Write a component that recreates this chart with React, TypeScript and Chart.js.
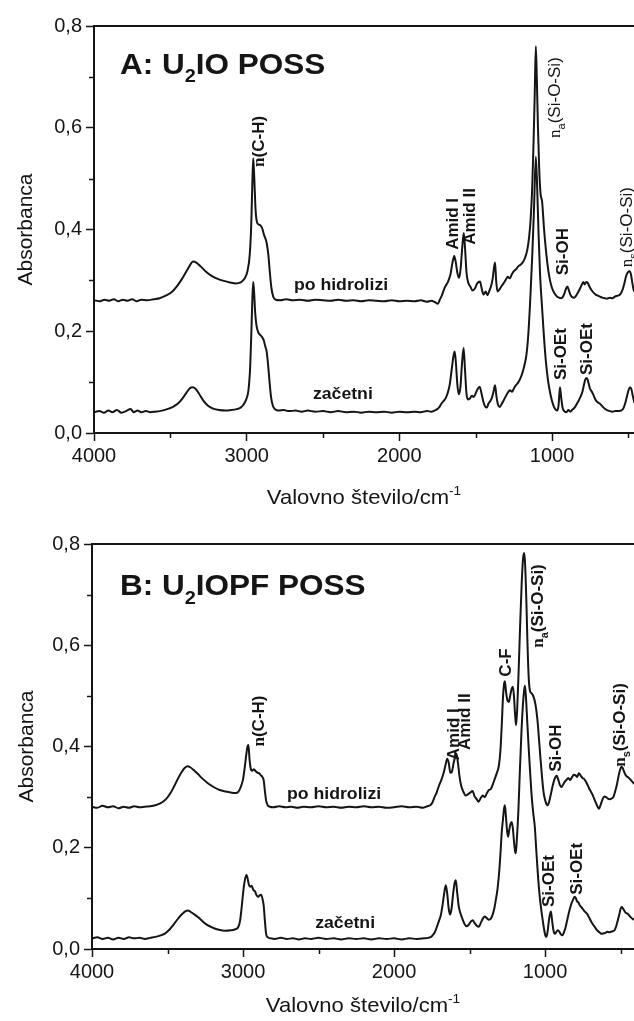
import React, { useEffect, useRef } from 'react';
import { Chart, registerables } from 'chart.js';

Chart.register(...registerables);

// ---------- axis ticks ----------
const X_MAJOR = [4000, 3000, 2000, 1000];
const X_MINOR = [3500, 2500, 1500, 500];
const Y_MAJOR = [0, 0.2, 0.4, 0.6, 0.8];
const Y_MINOR = [0.1, 0.3, 0.5, 0.7];
const SERIES_NAMES = ['po hidrolizi', 'začetni'];

// ---------- Panel A: U2IO POSS ----------
const A_HYD_WN = [4000, 3960, 3930, 3900, 3870, 3840, 3810, 3780, 3750, 3720, 3690, 3650, 3610, 3570, 3530, 3490, 3460, 3430, 3400, 3375, 3352, 3330, 3300, 3270, 3230, 3190, 3150, 3110, 3070, 3040, 3015, 2995, 2980, 2970, 2962, 2957, 2950, 2942, 2933, 2922, 2910, 2898, 2887, 2877, 2868, 2858, 2848, 2838, 2826, 2810, 2780, 2740, 2700, 2650, 2600, 2550, 2500, 2450, 2400, 2350, 2300, 2250, 2200, 2150, 2100, 2050, 2000, 1950, 1900, 1860, 1820, 1790, 1765, 1748, 1735, 1722, 1708, 1695, 1680, 1665, 1652, 1640, 1630, 1620, 1608, 1598, 1588, 1578, 1569, 1560, 1548, 1535, 1520, 1505, 1490, 1472, 1460, 1448, 1435, 1422, 1410, 1398, 1388, 1380, 1373, 1366, 1357, 1345, 1332, 1318, 1305, 1290, 1277, 1263, 1250, 1235, 1220, 1205, 1190, 1176, 1162, 1150, 1140, 1130, 1121, 1113, 1106, 1099, 1092, 1084, 1075, 1065, 1052, 1040, 1027, 1013, 1000, 985, 970, 955, 940, 928, 918, 908, 899, 890, 880, 868, 855, 842, 830, 818, 806, 795, 786, 776, 766, 755, 742, 728, 714, 700, 685, 670, 655, 640, 622, 605, 588, 570, 555, 540, 527, 515, 503, 492, 483, 474, 466, 460];
const A_HYD_ABS = [0.261, 0.259, 0.262, 0.26, 0.263, 0.259, 0.262, 0.26, 0.263, 0.259, 0.262, 0.261, 0.263, 0.265, 0.27, 0.277, 0.287, 0.3, 0.315, 0.328, 0.337, 0.335, 0.327, 0.318, 0.309, 0.303, 0.299, 0.296, 0.294, 0.296, 0.303, 0.318, 0.35, 0.41, 0.5, 0.54, 0.5, 0.44, 0.415, 0.41, 0.408, 0.402, 0.39, 0.382, 0.372, 0.35, 0.315, 0.285, 0.268, 0.262, 0.261, 0.263, 0.261, 0.262, 0.26, 0.262, 0.261, 0.26, 0.262, 0.26, 0.261, 0.259, 0.261, 0.26, 0.259, 0.261, 0.259, 0.26, 0.259, 0.261, 0.258, 0.26, 0.257, 0.254, 0.262, 0.27, 0.282, 0.29, 0.298, 0.312, 0.335, 0.348, 0.335, 0.315, 0.305, 0.325, 0.365, 0.393, 0.36, 0.315, 0.295, 0.288, 0.28, 0.284, 0.294, 0.298, 0.283, 0.272, 0.278, 0.271, 0.28, 0.29, 0.305, 0.325, 0.335, 0.3, 0.278, 0.282, 0.288, 0.294, 0.3, 0.307, 0.304, 0.312, 0.318, 0.322, 0.328, 0.331, 0.336, 0.345, 0.36, 0.385, 0.42, 0.48, 0.57, 0.67, 0.76, 0.69, 0.6, 0.52, 0.47, 0.455, 0.4, 0.36, 0.325, 0.3, 0.285, 0.275, 0.269, 0.266, 0.265, 0.268, 0.275, 0.284, 0.288, 0.281, 0.272, 0.267, 0.266, 0.27, 0.276, 0.283, 0.291, 0.297, 0.292, 0.297, 0.295, 0.288, 0.281, 0.276, 0.272, 0.27, 0.268, 0.266, 0.265, 0.264, 0.266, 0.265, 0.268, 0.27, 0.272, 0.28, 0.293, 0.308, 0.316, 0.318, 0.312, 0.295, 0.282, 0.278];

const A_INI_WN = [4000, 3965, 3935, 3905, 3880, 3850, 3820, 3790, 3760, 3740, 3715, 3690, 3660, 3630, 3600, 3570, 3540, 3510, 3480, 3450, 3420, 3395, 3372, 3355, 3335, 3312, 3285, 3255, 3220, 3180, 3140, 3100, 3065, 3040, 3020, 3003, 2988, 2977, 2968, 2962, 2957, 2951, 2944, 2935, 2924, 2912, 2900, 2888, 2878, 2869, 2860, 2850, 2840, 2828, 2812, 2790, 2760, 2720, 2680, 2640, 2600, 2550, 2500, 2450, 2400, 2350, 2300, 2250, 2200, 2150, 2100, 2050, 2000, 1950, 1900, 1860, 1820, 1790, 1770, 1752, 1738, 1724, 1710, 1697, 1684, 1670, 1657, 1646, 1638, 1630, 1620, 1610, 1600, 1590, 1579, 1570, 1561, 1550, 1538, 1525, 1512, 1500, 1488, 1474, 1462, 1450, 1438, 1427, 1416, 1404, 1393, 1382, 1373, 1364, 1354, 1342, 1330, 1317, 1303, 1290, 1276, 1262, 1249, 1236, 1222, 1208, 1194, 1180, 1167, 1155, 1143, 1130, 1118, 1106, 1097, 1088, 1078, 1066, 1053, 1040, 1027, 1013, 1000, 988, 976, 966, 957, 948, 940, 931, 920, 906, 892, 880, 866, 852, 838, 825, 812, 800, 790, 781, 772, 763, 752, 741, 729, 716, 703, 688, 672, 656, 640, 622, 604, 586, 568, 550, 535, 522, 510, 499, 489, 480, 471, 463, 460];
const A_INI_ABS = [0.041, 0.043, 0.04, 0.044, 0.041, 0.045, 0.04, 0.043, 0.047, 0.041, 0.044, 0.041, 0.043, 0.041, 0.042, 0.043, 0.045, 0.048, 0.052, 0.058, 0.068, 0.079, 0.088, 0.09, 0.087, 0.077, 0.064, 0.054, 0.048, 0.045, 0.044, 0.045, 0.047, 0.05, 0.056, 0.066, 0.085, 0.13, 0.21, 0.27, 0.297, 0.275, 0.235, 0.21, 0.198, 0.193, 0.189, 0.182, 0.17, 0.16, 0.135, 0.1, 0.07, 0.053, 0.046, 0.044, 0.045, 0.043, 0.044, 0.042, 0.044, 0.042, 0.043, 0.041, 0.043, 0.041, 0.042, 0.04, 0.042, 0.041, 0.042, 0.04, 0.042, 0.041, 0.042, 0.041, 0.043, 0.042, 0.044, 0.047, 0.051, 0.058, 0.063, 0.068, 0.078, 0.095, 0.125, 0.15, 0.16, 0.14, 0.095, 0.076, 0.09, 0.135, 0.167, 0.125, 0.08, 0.066, 0.068, 0.073, 0.071, 0.078, 0.086, 0.091, 0.078, 0.062, 0.052, 0.05, 0.058, 0.063, 0.07, 0.083, 0.094, 0.072, 0.056, 0.051, 0.057, 0.064, 0.072, 0.079, 0.084, 0.081, 0.088, 0.094, 0.099, 0.107, 0.118, 0.134, 0.155, 0.195, 0.26, 0.345, 0.44, 0.543, 0.48, 0.39, 0.31, 0.25, 0.19, 0.14, 0.105, 0.08, 0.063, 0.052, 0.046, 0.044, 0.055, 0.09, 0.07, 0.05, 0.043, 0.041, 0.045, 0.042, 0.046, 0.05, 0.057, 0.064, 0.072, 0.082, 0.096, 0.106, 0.108, 0.101, 0.088, 0.082, 0.075, 0.066, 0.061, 0.058, 0.053, 0.048, 0.045, 0.043, 0.042, 0.043, 0.043, 0.044, 0.047, 0.057, 0.071, 0.084, 0.09, 0.086, 0.073, 0.063, 0.06];

// ---------- Panel B: U2IOPF POSS ----------
const B_HYD_WN = [4000, 3965, 3930, 3895, 3860, 3825, 3790, 3755, 3720, 3685, 3650, 3615, 3580, 3545, 3510, 3480, 3455, 3430, 3405, 3385, 3368, 3350, 3325, 3300, 3270, 3235, 3195, 3155, 3115, 3080, 3050, 3030, 3015, 3000, 2988, 2978, 2970, 2964, 2957, 2950, 2940, 2928, 2916, 2903, 2892, 2882, 2872, 2863, 2855, 2847, 2837, 2822, 2800, 2760, 2720, 2680, 2640, 2600, 2550, 2500, 2450, 2400, 2350, 2300, 2250, 2200, 2150, 2100, 2050, 2000, 1950, 1900, 1850, 1810, 1780, 1760, 1745, 1732, 1718, 1703, 1688, 1674, 1660, 1648, 1638, 1627, 1617, 1607, 1597, 1587, 1577, 1566, 1555, 1540, 1525, 1510, 1495, 1480, 1467, 1453, 1440, 1426, 1412, 1399, 1385, 1372, 1359, 1346, 1333, 1320, 1306, 1296, 1287, 1278, 1271, 1266, 1259, 1250, 1240, 1231, 1222, 1213, 1206, 1199, 1192, 1185, 1176, 1166, 1155, 1146, 1138, 1132, 1124, 1116, 1108, 1100, 1092, 1084, 1075, 1066, 1057, 1048, 1039, 1030, 1020, 1010, 1000, 990, 982, 972, 960, 950, 940, 930, 922, 912, 902, 893, 882, 870, 858, 846, 834, 822, 810, 798, 787, 776, 765, 753, 742, 732, 720, 708, 697, 686, 675, 664, 652, 642, 632, 620, 608, 596, 584, 572, 560, 548, 536, 524, 513, 503, 494, 485, 475, 465, 454, 442, 430, 418, 410];
const B_HYD_ABS = [0.281, 0.279, 0.283, 0.28, 0.282, 0.278, 0.281, 0.279, 0.282, 0.28, 0.281, 0.282, 0.284, 0.288, 0.296, 0.308, 0.322, 0.337, 0.35, 0.358, 0.361, 0.359, 0.353, 0.346, 0.337, 0.328, 0.32, 0.314, 0.311, 0.309, 0.308, 0.311, 0.32, 0.335, 0.36, 0.385, 0.4, 0.403, 0.375, 0.358, 0.352, 0.355, 0.351, 0.348, 0.347, 0.343, 0.34, 0.333, 0.312, 0.293, 0.284, 0.281, 0.28, 0.282, 0.28, 0.281, 0.279, 0.281, 0.28, 0.282, 0.28, 0.281, 0.279, 0.281, 0.28, 0.282, 0.28, 0.281, 0.279, 0.28, 0.282, 0.28, 0.281, 0.279, 0.282, 0.284, 0.29, 0.3, 0.309, 0.322, 0.333, 0.345, 0.362, 0.376, 0.368, 0.348, 0.35, 0.365, 0.378, 0.386, 0.368, 0.34, 0.322, 0.31, 0.303, 0.306, 0.309, 0.312, 0.302, 0.296, 0.291, 0.298, 0.303, 0.3, 0.308, 0.314, 0.316, 0.325, 0.336, 0.347, 0.362, 0.39, 0.44, 0.5, 0.524, 0.529, 0.51, 0.492, 0.488, 0.5, 0.513, 0.518, 0.5, 0.465, 0.442, 0.47, 0.54, 0.63, 0.72, 0.77, 0.782, 0.76, 0.69, 0.6, 0.535, 0.51, 0.506, 0.503, 0.497, 0.487, 0.47, 0.445, 0.41, 0.375, 0.34, 0.31, 0.295, 0.286, 0.284, 0.292, 0.308, 0.322, 0.333, 0.34, 0.342, 0.334, 0.324, 0.32, 0.324, 0.33, 0.334, 0.338, 0.334, 0.339, 0.344, 0.343, 0.34, 0.347, 0.343, 0.338, 0.336, 0.332, 0.325, 0.317, 0.311, 0.305, 0.297, 0.289, 0.281, 0.277, 0.285, 0.295, 0.301, 0.3, 0.297, 0.296, 0.297, 0.3, 0.311, 0.325, 0.342, 0.354, 0.36, 0.357, 0.349, 0.343, 0.34, 0.337, 0.333, 0.329, 0.326];

const B_INI_WN = [4000, 3965, 3930, 3895, 3860, 3825, 3790, 3755, 3720, 3685, 3650, 3615, 3580, 3545, 3515, 3485, 3455, 3425, 3400, 3380, 3365, 3345, 3320, 3295, 3265, 3235, 3200, 3160, 3120, 3080, 3050, 3032, 3020, 3008, 2996, 2985, 2977, 2970, 2962, 2953, 2943, 2932, 2921, 2910, 2900, 2890, 2880, 2871, 2863, 2855, 2847, 2835, 2815, 2790, 2750, 2710, 2670, 2630, 2590, 2550, 2500, 2450, 2400, 2350, 2300, 2250, 2200, 2150, 2100, 2050, 2000, 1950, 1900, 1850, 1800, 1775, 1755, 1742, 1730, 1716, 1702, 1690, 1678, 1667, 1657, 1648, 1638, 1629, 1619, 1609, 1599, 1591, 1582, 1572, 1561, 1548, 1534, 1520, 1506, 1492, 1479, 1466, 1452, 1439, 1425, 1412, 1399, 1386, 1372, 1359, 1347, 1336, 1326, 1315, 1305, 1296, 1287, 1279, 1271, 1266, 1259, 1252, 1245, 1237, 1229, 1221, 1213, 1205, 1198, 1194, 1187, 1177, 1167, 1156, 1146, 1138, 1133, 1126, 1118, 1108, 1098, 1088, 1078, 1068, 1058, 1048, 1038, 1028, 1017, 1007, 998, 991, 983, 975, 968, 961, 954, 945, 935, 925, 915, 905, 895, 885, 875, 865, 855, 845, 835, 825, 815, 805, 797, 788, 779, 770, 760, 750, 740, 730, 720, 708, 696, 684, 672, 660, 648, 636, 624, 612, 600, 588, 576, 564, 552, 540, 529, 518, 507, 499, 492, 484, 474, 464, 454, 442, 430, 418, 410];
const B_INI_ABS = [0.021, 0.023, 0.02, 0.022, 0.019, 0.022, 0.02, 0.023, 0.021, 0.022, 0.02, 0.022, 0.024, 0.027, 0.031, 0.039, 0.05, 0.062, 0.07, 0.075, 0.076, 0.073, 0.068, 0.062, 0.054, 0.047, 0.042, 0.038, 0.036, 0.037, 0.039, 0.043, 0.055, 0.085, 0.12, 0.14, 0.146, 0.14, 0.128, 0.123, 0.125, 0.117, 0.114, 0.106, 0.103, 0.106, 0.107, 0.099, 0.085, 0.055, 0.03, 0.023, 0.021, 0.02, 0.022, 0.02, 0.021, 0.019, 0.021, 0.02, 0.022, 0.02, 0.021, 0.019, 0.021, 0.02, 0.021, 0.019, 0.021, 0.02, 0.021, 0.019, 0.021, 0.02, 0.021, 0.022, 0.024, 0.028, 0.033, 0.044, 0.056, 0.067, 0.088, 0.112, 0.126, 0.11, 0.08, 0.068, 0.08, 0.108, 0.13, 0.136, 0.112, 0.085, 0.071, 0.06, 0.05, 0.045, 0.048, 0.054, 0.057, 0.051, 0.046, 0.044, 0.052, 0.06, 0.064, 0.061, 0.058, 0.06, 0.068, 0.08, 0.097, 0.118, 0.148, 0.185, 0.23, 0.255, 0.278, 0.284, 0.262, 0.235, 0.222, 0.235, 0.247, 0.251, 0.238, 0.21, 0.192, 0.189, 0.215, 0.27, 0.35, 0.43, 0.485, 0.512, 0.52, 0.495, 0.45, 0.395, 0.345, 0.3, 0.268, 0.242, 0.195, 0.15, 0.112, 0.084, 0.06, 0.04, 0.027, 0.024, 0.035, 0.055, 0.068, 0.074, 0.058, 0.038, 0.03, 0.034, 0.037, 0.034, 0.029, 0.027, 0.033, 0.042, 0.055, 0.068, 0.08, 0.09, 0.097, 0.103, 0.101, 0.094, 0.092, 0.086, 0.083, 0.079, 0.075, 0.072, 0.069, 0.062, 0.055, 0.049, 0.044, 0.039, 0.035, 0.032, 0.03, 0.031, 0.032, 0.034, 0.033, 0.034, 0.035, 0.037, 0.045, 0.057, 0.07, 0.08, 0.083, 0.08, 0.075, 0.071, 0.07, 0.066, 0.062, 0.059, 0.058];

// ---------- styling ----------
const INK = '#151515';
const SANS = "'Liberation Sans', Arial, Helvetica, sans-serif";
const SERIF = "'Liberation Serif', 'Times New Roman', serif";

type Seg = { t: string; sub?: boolean; sup?: boolean; serif?: boolean };
type Label = { segs: Seg[]; wn: number; val: number; kind: 'rot' | 'center' | 'title'; size: number; weight: string };

const NU = (rest: string, sub?: string): Seg[] =>
  sub ? [{ t: 'n', serif: true }, { t: sub, sub: true }, { t: rest }] : [{ t: 'n', serif: true }, { t: rest }];
const T = (s: string): Seg[] => [{ t: s }];

const LABELS_A: Label[] = [
  { segs: [{ t: 'A: U' }, { t: '2', sub: true }, { t: 'IO POSS' }], wn: 3830, val: 0.706, kind: 'title', size: 30, weight: 'bold' },
  { segs: NU('(C-H)'), wn: 2926, val: 0.523, kind: 'rot', size: 17, weight: 'bold' },
  { segs: NU('(Si-O-Si)', 'a'), wn: 987, val: 0.58, kind: 'rot', size: 17, weight: 'normal' },
  { segs: T('Amid I'), wn: 1655, val: 0.36, kind: 'rot', size: 17, weight: 'bold' },
  { segs: T('Amid II'), wn: 1544, val: 0.37, kind: 'rot', size: 17, weight: 'bold' },
  { segs: T('Si-OH'), wn: 935, val: 0.31, kind: 'rot', size: 17, weight: 'bold' },
  { segs: NU('(Si-O-Si)', 's'), wn: 515, val: 0.326, kind: 'rot', size: 17, weight: 'normal' },
  { segs: T('Si-OEt'), wn: 948, val: 0.104, kind: 'rot', size: 17, weight: 'bold' },
  { segs: T('Si-OEt'), wn: 780, val: 0.114, kind: 'rot', size: 17, weight: 'bold' },
  { segs: T(SERIES_NAMES[0]), wn: 2382, val: 0.293, kind: 'center', size: 17, weight: 'bold' },
  { segs: T(SERIES_NAMES[1]), wn: 2370, val: 0.079, kind: 'center', size: 17, weight: 'bold' },
];

const LABELS_B: Label[] = [
  { segs: [{ t: 'B: U' }, { t: '2', sub: true }, { t: 'IOPF POSS' }], wn: 3815, val: 0.699, kind: 'title', size: 30, weight: 'bold' },
  { segs: NU('(C-H)'), wn: 2903, val: 0.4, kind: 'rot', size: 17, weight: 'bold' },
  { segs: T('Amid I'), wn: 1609, val: 0.373, kind: 'rot', size: 17, weight: 'bold' },
  { segs: T('Amid II'), wn: 1540, val: 0.393, kind: 'rot', size: 17, weight: 'bold' },
  { segs: T('C-F'), wn: 1266, val: 0.538, kind: 'rot', size: 17, weight: 'bold' },
  { segs: NU('(Si-O-Si)', 'a'), wn: 1053, val: 0.595, kind: 'rot', size: 17, weight: 'bold' },
  { segs: T('Si-OH'), wn: 933, val: 0.35, kind: 'rot', size: 17, weight: 'bold' },
  { segs: NU('(Si-O-Si)', 's'), wn: 508, val: 0.36, kind: 'rot', size: 17, weight: 'bold' },
  { segs: T('Si-OEt'), wn: 981, val: 0.083, kind: 'rot', size: 17, weight: 'bold' },
  { segs: T('Si-OEt'), wn: 795, val: 0.107, kind: 'rot', size: 17, weight: 'bold' },
  { segs: T(SERIES_NAMES[0]), wn: 2397, val: 0.308, kind: 'center', size: 17, weight: 'bold' },
  { segs: T(SERIES_NAMES[1]), wn: 2324, val: 0.053, kind: 'center', size: 17, weight: 'bold' },
];

type PanelCfg = {
  height: number;
  padTop: number;
  yWidth: number;
  xHeight: number;
  xMin: number;
  xTitleDy: number;
  yTitleX: number;
  series: { wn: number[]; abs: number[] }[];
  labels: Label[];
};

const PANEL_A: PanelCfg = {
  height: 512, padTop: 26, yWidth: 94, xHeight: 79, xMin: 463, xTitleDy: 71, yTitleX: 24,
  series: [{ wn: A_HYD_WN, abs: A_HYD_ABS }, { wn: A_INI_WN, abs: A_INI_ABS }],
  labels: LABELS_A,
};
const PANEL_B: PanelCfg = {
  height: 509, padTop: 32, yWidth: 92, xHeight: 72, xMin: 411, xTitleDy: 63, yTitleX: 25,
  series: [{ wn: B_HYD_WN, abs: B_HYD_ABS }, { wn: B_INI_WN, abs: B_INI_ABS }],
  labels: LABELS_B,
};

function drawRich(ctx: CanvasRenderingContext2D, segs: Seg[], x: number, y: number, size: number, weight: string, align: 'left' | 'center') {
  const fonts = segs.map((s) => {
    const sz = s.sub || s.sup ? Math.round(size * 0.62) : size;
    return `${weight} ${sz}px ${s.serif ? SERIF : SANS}`;
  });
  let total = 0;
  const widths = segs.map((s, i) => {
    ctx.font = fonts[i];
    const w = ctx.measureText(s.t).width;
    total += w;
    return w;
  });
  let cx = align === 'center' ? x - total / 2 : x;
  segs.forEach((s, i) => {
    ctx.font = fonts[i];
    const dy = s.sub ? size * 0.28 : s.sup ? -size * 0.42 : 0;
    ctx.fillText(s.t, cx, y + dy);
    cx += widths[i];
  });
}

function makeOverlay(cfg: PanelCfg) {
  return {
    id: 'overlay',
    afterDraw(chart: any) {
      const { ctx, chartArea } = chart;
      const x = chart.scales.x;
      const y = chart.scales.y;
      ctx.save();
      ctx.fillStyle = INK;
      ctx.strokeStyle = INK;
      ctx.textBaseline = 'alphabetic';
      // minor ticks
      ctx.lineWidth = 1.5;
      X_MINOR.forEach((v) => {
        if (v < x.min || v > x.max) return;
        const px = Math.round(x.getPixelForValue(v)) + 0.5;
        ctx.beginPath();
        ctx.moveTo(px, chartArea.bottom);
        ctx.lineTo(px, chartArea.bottom + 5);
        ctx.stroke();
      });
      Y_MINOR.forEach((v) => {
        const py = Math.round(y.getPixelForValue(v)) + 0.5;
        ctx.beginPath();
        ctx.moveTo(chartArea.left, py);
        ctx.lineTo(chartArea.left - 5, py);
        ctx.stroke();
      });
      // annotations
      cfg.labels.forEach((l) => {
        const px = x.getPixelForValue(l.wn);
        const py = y.getPixelForValue(l.val);
        ctx.save();
        ctx.translate(px, py);
        if (l.kind === 'rot') {
          ctx.rotate(-Math.PI / 2);
          drawRich(ctx, l.segs, 0, l.size * 0.36, l.size, l.weight, 'left');
        } else if (l.kind === 'center') {
          ctx.scale(1.04, 1);
          drawRich(ctx, l.segs, 0, l.size * 0.36, l.size, l.weight, 'center');
        } else {
          ctx.scale(1.05, 1);
          drawRich(ctx, l.segs, 0, 0, l.size, l.weight, 'left');
        }
        ctx.restore();
      });
      // axis titles
      ctx.save();
      ctx.translate((chartArea.left + chartArea.right) / 2, chartArea.bottom + cfg.xTitleDy);
      ctx.scale(1.05, 1);
      drawRich(ctx, [{ t: 'Valovno število/cm' }, { t: '-1', sup: true }], 0, 0, 21, 'normal', 'center');
      ctx.restore();
      ctx.save();
      ctx.translate(cfg.yTitleX, (chartArea.top + chartArea.bottom) / 2);
      ctx.rotate(-Math.PI / 2);
      drawRich(ctx, [{ t: 'Absorbanca' }], 0, 21 * 0.36, 21, 'normal', 'center');
      ctx.restore();
      ctx.restore();
    },
  };
}

function Panel({ cfg }: { cfg: PanelCfg }) {
  const ref = useRef<HTMLCanvasElement | null>(null);
  useEffect(() => {
    if (!ref.current) return;
    const chart = new Chart(ref.current, {
      type: 'line',
      data: {
        datasets: cfg.series.map((s, i) => ({
          label: SERIES_NAMES[i],
          data: s.wn.map((w, j) => ({ x: w, y: s.abs[j] })),
          borderColor: INK,
          borderWidth: 2,
          pointRadius: 0,
          fill: false,
          cubicInterpolationMode: 'monotone' as const,
        })),
      },
      options: {
        responsive: false,
        animation: false,
        events: [],
        layout: { padding: { top: cfg.padTop, left: 0, right: 0, bottom: 0 } },
        plugins: { legend: { display: false }, tooltip: { enabled: false } },
        scales: {
          x: {
            type: 'linear',
            position: 'bottom',
            reverse: true,
            min: cfg.xMin,
            max: 4000,
            afterBuildTicks: (sc: any) => { sc.ticks = X_MAJOR.map((v) => ({ value: v })); },
            afterFit: (sc: any) => { sc.height = cfg.xHeight; },
            ticks: {
              color: INK,
              font: { size: 20, family: SANS },
              padding: 3,
              maxRotation: 0,
              autoSkip: false,
              callback: (v: any) => String(v),
            },
            grid: { display: true, drawOnChartArea: false, drawTicks: true, tickLength: 8, tickWidth: 1.5, tickColor: INK, color: INK },
            border: { display: true, color: INK, width: 2 },
          },
          x2: {
            type: 'linear',
            position: 'top',
            afterFit: (sc: any) => { sc.height = 0; },
            ticks: { display: false },
            grid: { display: false },
            border: { display: true, color: INK, width: 2 },
          },
          y: {
            type: 'linear',
            min: 0,
            max: 0.8,
            afterBuildTicks: (sc: any) => { sc.ticks = Y_MAJOR.map((v) => ({ value: v })); },
            afterFit: (sc: any) => { sc.width = cfg.yWidth; },
            ticks: {
              color: INK,
              font: { size: 20, family: SANS },
              padding: 4,
              callback: (v: any) => Number(v).toFixed(1).replace('.', ','),
            },
            grid: { display: true, drawOnChartArea: false, drawTicks: true, tickLength: 8, tickWidth: 1.5, tickColor: INK, color: INK },
            border: { display: true, color: INK, width: 2 },
          },
        },
      },
      plugins: [makeOverlay(cfg)],
    } as any);
    return () => chart.destroy();
  }, [cfg]);
  return <canvas ref={ref} width={634} height={cfg.height} style={{ display: 'block', width: 634, height: cfg.height }} />;
}

export default function App() {
  return (
    <div style={{ position: 'absolute', left: 0, top: 0, width: 634, height: 1021, background: '#fff' }}>
      <Panel cfg={PANEL_A} />
      <Panel cfg={PANEL_B} />
    </div>
  );
}
